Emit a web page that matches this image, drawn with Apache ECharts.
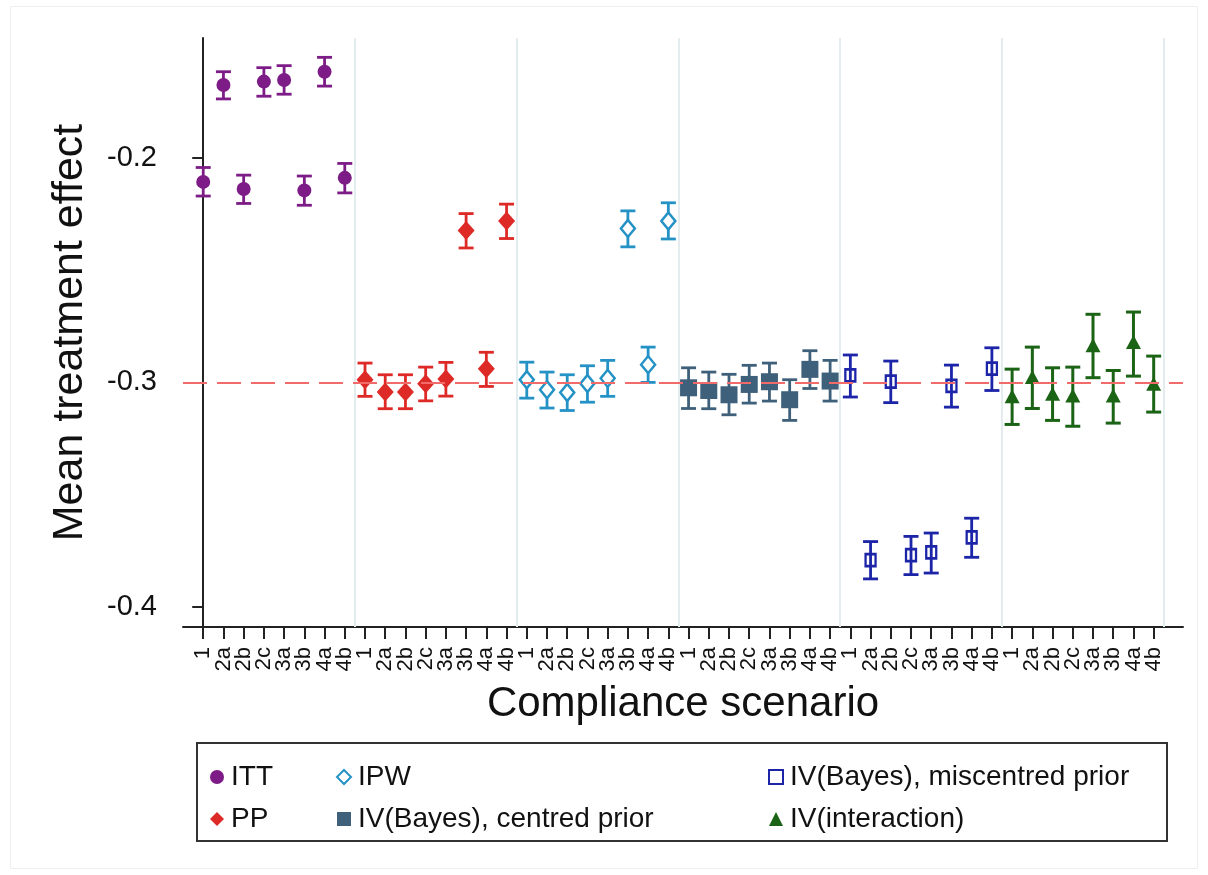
<!DOCTYPE html>
<html><head><meta charset="utf-8">
<script src="https://cdn.jsdelivr.net/npm/echarts@6/dist/echarts.min.js"></script>
<style>html,body{margin:0;padding:0;background:#fff}#c{width:1208px;height:875px}</style>
</head><body><div id="c"></div>
<script>
// ---------- data ----------
const scenarios = ['1', '2a', '2b', '2c', '3a', '3b', '4a', '4b'];
const methods = ['ITT', 'PP', 'IPW', 'IV(Bayes), centred prior', 'IV(Bayes), miscentred prior', 'IV(interaction)'];
const referenceValue = -0.3;
const yTicks = [-0.4, -0.3, -0.2];

const ittEst = [-0.2108, -0.1677, -0.2140, -0.1662, -0.1655, -0.2146, -0.1618, -0.2090];
const ittLo  = [-0.2171, -0.1739, -0.2204, -0.1727, -0.1718, -0.2212, -0.1682, -0.2157];
const ittHi  = [-0.2044, -0.1618, -0.2078, -0.1600, -0.1591, -0.2082, -0.1554, -0.2026];

const ppEst = [-0.2988, -0.3043, -0.3043, -0.3006, -0.2985, -0.2324, -0.2939, -0.2282];
const ppLo  = [-0.3062, -0.3117, -0.3117, -0.3082, -0.3061, -0.2402, -0.3018, -0.2360];
const ppHi  = [-0.2914, -0.2966, -0.2966, -0.2932, -0.2911, -0.2249, -0.2866, -0.2207];

const ipwEst = [-0.2988, -0.3033, -0.3045, -0.3005, -0.2982, -0.2315, -0.2921, -0.2282];
const ipwLo  = [-0.3070, -0.3114, -0.3125, -0.3088, -0.3062, -0.2397, -0.3000, -0.2362];
const ipwHi  = [-0.2910, -0.2954, -0.2966, -0.2926, -0.2902, -0.2237, -0.2843, -0.2201];

const ivcEst = [-0.3024, -0.3036, -0.3055, -0.3009, -0.2997, -0.3077, -0.2942, -0.2994];
const ivcLo  = [-0.3116, -0.3117, -0.3144, -0.3092, -0.3083, -0.3169, -0.3027, -0.3083];
const ivcHi  = [-0.2935, -0.2954, -0.2964, -0.2924, -0.2914, -0.2988, -0.2859, -0.2902];

const ivmEst = [-0.2969, -0.3790, -0.2996, -0.3768, -0.3756, -0.3015, -0.3689, -0.2939];
const ivmLo  = [-0.3065, -0.3874, -0.3090, -0.3855, -0.3848, -0.3110, -0.3778, -0.3036];
const ivmHi  = [-0.2878, -0.3708, -0.2905, -0.3685, -0.3670, -0.2923, -0.3604, -0.2846];

const iviEst = [-0.3062, -0.2976, -0.3050, -0.3058, -0.2835, -0.3058, -0.2820, -0.3006];
const iviLo  = [-0.3187, -0.3116, -0.3169, -0.3195, -0.2979, -0.3181, -0.2972, -0.3132];
const iviHi  = [-0.2941, -0.2843, -0.2935, -0.2932, -0.2697, -0.2947, -0.2687, -0.2883];

const estimates = [ittEst, ppEst, ipwEst, ivcEst, ivmEst, iviEst];
const lows = [ittLo, ppLo, ipwLo, ivcLo, ivmLo, iviLo];
const highs = [ittHi, ppHi, ipwHi, ivcHi, ivmHi, iviHi];

// ---------- styles ----------
const FONT = '"Liberation Sans", Arial, Helvetica, sans-serif';
const looks = [
  { color: '#7D1C86', symbol: 'circle',   size: 14,       fill: '#7D1C86', bw: 0,   lw: 2.8 },
  { color: '#DE2A26', symbol: 'diamond',  size: [17, 19], fill: '#DE2A26', bw: 0,   lw: 2.8 },
  { color: '#2592C6', symbol: 'diamond',  size: [14, 17], fill: '#ffffff', bw: 2.5, lw: 2.8 },
  { color: '#3F607A', symbol: 'rect',     size: 17,       fill: '#3F607A', bw: 0,   lw: 2.8 },
  { color: '#1C24A8', symbol: 'rect',     size: [10, 12], fill: 'rgba(0,0,0,0)', bw: 2.5, lw: 2.8 },
  { color: '#1B6415', symbol: 'triangle', size: [15, 14], fill: '#1B6415', bw: 0,   lw: 3 }
];

// ---------- axis ----------
const tickLabels = [];
methods.forEach(() => scenarios.forEach(s => tickLabels.push(s)));
const tickPos = tickLabels.map((_, i) => i);
const evenPos = tickPos.filter(i => i % 2 === 0);
const oddPos = tickPos.filter(i => i % 2 === 1);
const separators = methods.map((_, g) => (g + 1) * scenarios.length - 0.5);

function errRender(color, cap, lw) {
  return function (params, api) {
    const x = api.value(0);
    const p1 = api.coord([x, api.value(1)]);
    const p2 = api.coord([x, api.value(2)]);
    const h = cap / 2;
    const st = { stroke: color, lineWidth: lw, fill: null };
    return {
      type: 'group', children: [
        { type: 'line', shape: { x1: p1[0], y1: p1[1], x2: p2[0], y2: p2[1] }, style: st },
        { type: 'line', shape: { x1: p1[0] - h, y1: p1[1], x2: p1[0] + h, y2: p1[1] }, style: st },
        { type: 'line', shape: { x1: p2[0] - h, y1: p2[1], x2: p2[0] + h, y2: p2[1] }, style: st }
      ]
    };
  };
}

const series = [];
series.push({
  type: 'scatter', name: '_guides', data: [], silent: true, z: 1,
  markLine: {
    silent: true, symbol: 'none', label: { show: false }, animation: false,
    data: [
      ...separators.map(v => ({ xAxis: v, lineStyle: { color: '#E3EDF0', width: 2, type: 'solid' } })),
      { yAxis: referenceValue, lineStyle: { color: '#F26B6B', width: 2, type: [24, 10] } }
    ]
  }
});

methods.forEach((m, g) => {
  const lk = looks[g];
  const base = g * scenarios.length;
  series.push({
    type: 'custom', name: m + ' CI', z: 3, silent: true,
    renderItem: errRender(lk.color, 15, lk.lw),
    encode: { x: 0, y: [1, 2] },
    data: lows[g].map((lo, i) => [base + i, lo, highs[g][i]])
  });
  series.push({
    type: 'scatter', name: m, z: 4,
    symbol: lk.symbol, symbolSize: lk.size,
    itemStyle: { color: lk.fill, borderColor: lk.color, borderWidth: lk.bw, opacity: 1 },
    data: estimates[g].map((v, i) => [base + i, v])
  });
});

function legendItem(g) {
  const lk = looks[g];
  return {
    name: methods[g], icon: lk.symbol,
    itemStyle: { color: lk.fill === 'rgba(0,0,0,0)' ? '#ffffff' : lk.fill, borderColor: lk.color, borderWidth: lk.bw ? 2 : 0 }
  };
}
const legendCommon = {
  orient: 'vertical', top: 758, itemGap: 14, itemWidth: 14, itemHeight: 14,
  selectedMode: false,
  textStyle: { fontSize: 28, lineHeight: 28, color: '#111', fontFamily: FONT, padding: [0, 0, 0, 2] }
};

const xLabelStyle = {
  rotate: 90, margin: 20, fontSize: 22, color: '#111', fontFamily: FONT,
  showMinLabel: true, showMaxLabel: true,
  formatter: v => tickLabels[Math.round(v)]
};

const option = {
  animation: false,
  backgroundColor: '#ffffff',
  grid: { left: 183, right: 25, top: 38, bottom: 248 },
  xAxis: [{
    type: 'value', min: -1, max: 48.45, position: 'bottom',
    axisLine: { show: true, lineStyle: { color: '#222', width: 2 } },
    axisTick: { show: true, customValues: tickPos, length: 12, lineStyle: { color: '#222', width: 2 } },
    axisLabel: Object.assign({ customValues: evenPos }, xLabelStyle),
    splitLine: { show: false },
    name: 'Compliance scenario', nameLocation: 'middle', nameGap: 56,
    nameTextStyle: { fontSize: 42, color: '#111', fontFamily: FONT }
  }, {
    type: 'value', min: -1, max: 48.45, position: 'bottom', offset: 0,
    axisLine: { show: false },
    axisTick: { show: false },
    axisLabel: Object.assign({ customValues: oddPos }, xLabelStyle),
    splitLine: { show: false }
  }],
  yAxis: {
    type: 'value', min: -0.4088, max: -0.1468,
    axisLine: { show: true, lineStyle: { color: '#222', width: 2 } },
    axisTick: { show: true, customValues: yTicks, length: 11, lineStyle: { color: '#222', width: 2 } },
    axisLabel: { customValues: yTicks, margin: 26, fontSize: 29, color: '#111', fontFamily: FONT, formatter: v => v.toFixed(1) },
    splitLine: { show: false },
    name: 'Mean treatment effect', nameLocation: 'middle', nameGap: 91, nameRotate: 90,
    nameTextStyle: { fontSize: 43, color: '#111', fontFamily: FONT }
  },
  legend: [
    Object.assign({ left: 205, data: [legendItem(0), legendItem(1)] }, legendCommon),
    Object.assign({ left: 331, data: [legendItem(2), legendItem(3)] }, legendCommon),
    Object.assign({ left: 763, data: [legendItem(4), legendItem(5)] }, legendCommon)
  ],
  graphic: [
    { type: 'rect', silent: true, z: -10, shape: { x: 10.5, y: 6.5, width: 1187, height: 862 }, style: { fill: null, stroke: '#EEEEEE', lineWidth: 1 } },
    { type: 'rect', silent: true, shape: { x: 197, y: 743, width: 970, height: 98 }, style: { fill: null, stroke: '#333333', lineWidth: 2 } }
  ],
  series: series
};

const chart = echarts.init(document.getElementById('c'), null, { renderer: 'canvas' });
chart.setOption(option);
</script>
</body></html>
